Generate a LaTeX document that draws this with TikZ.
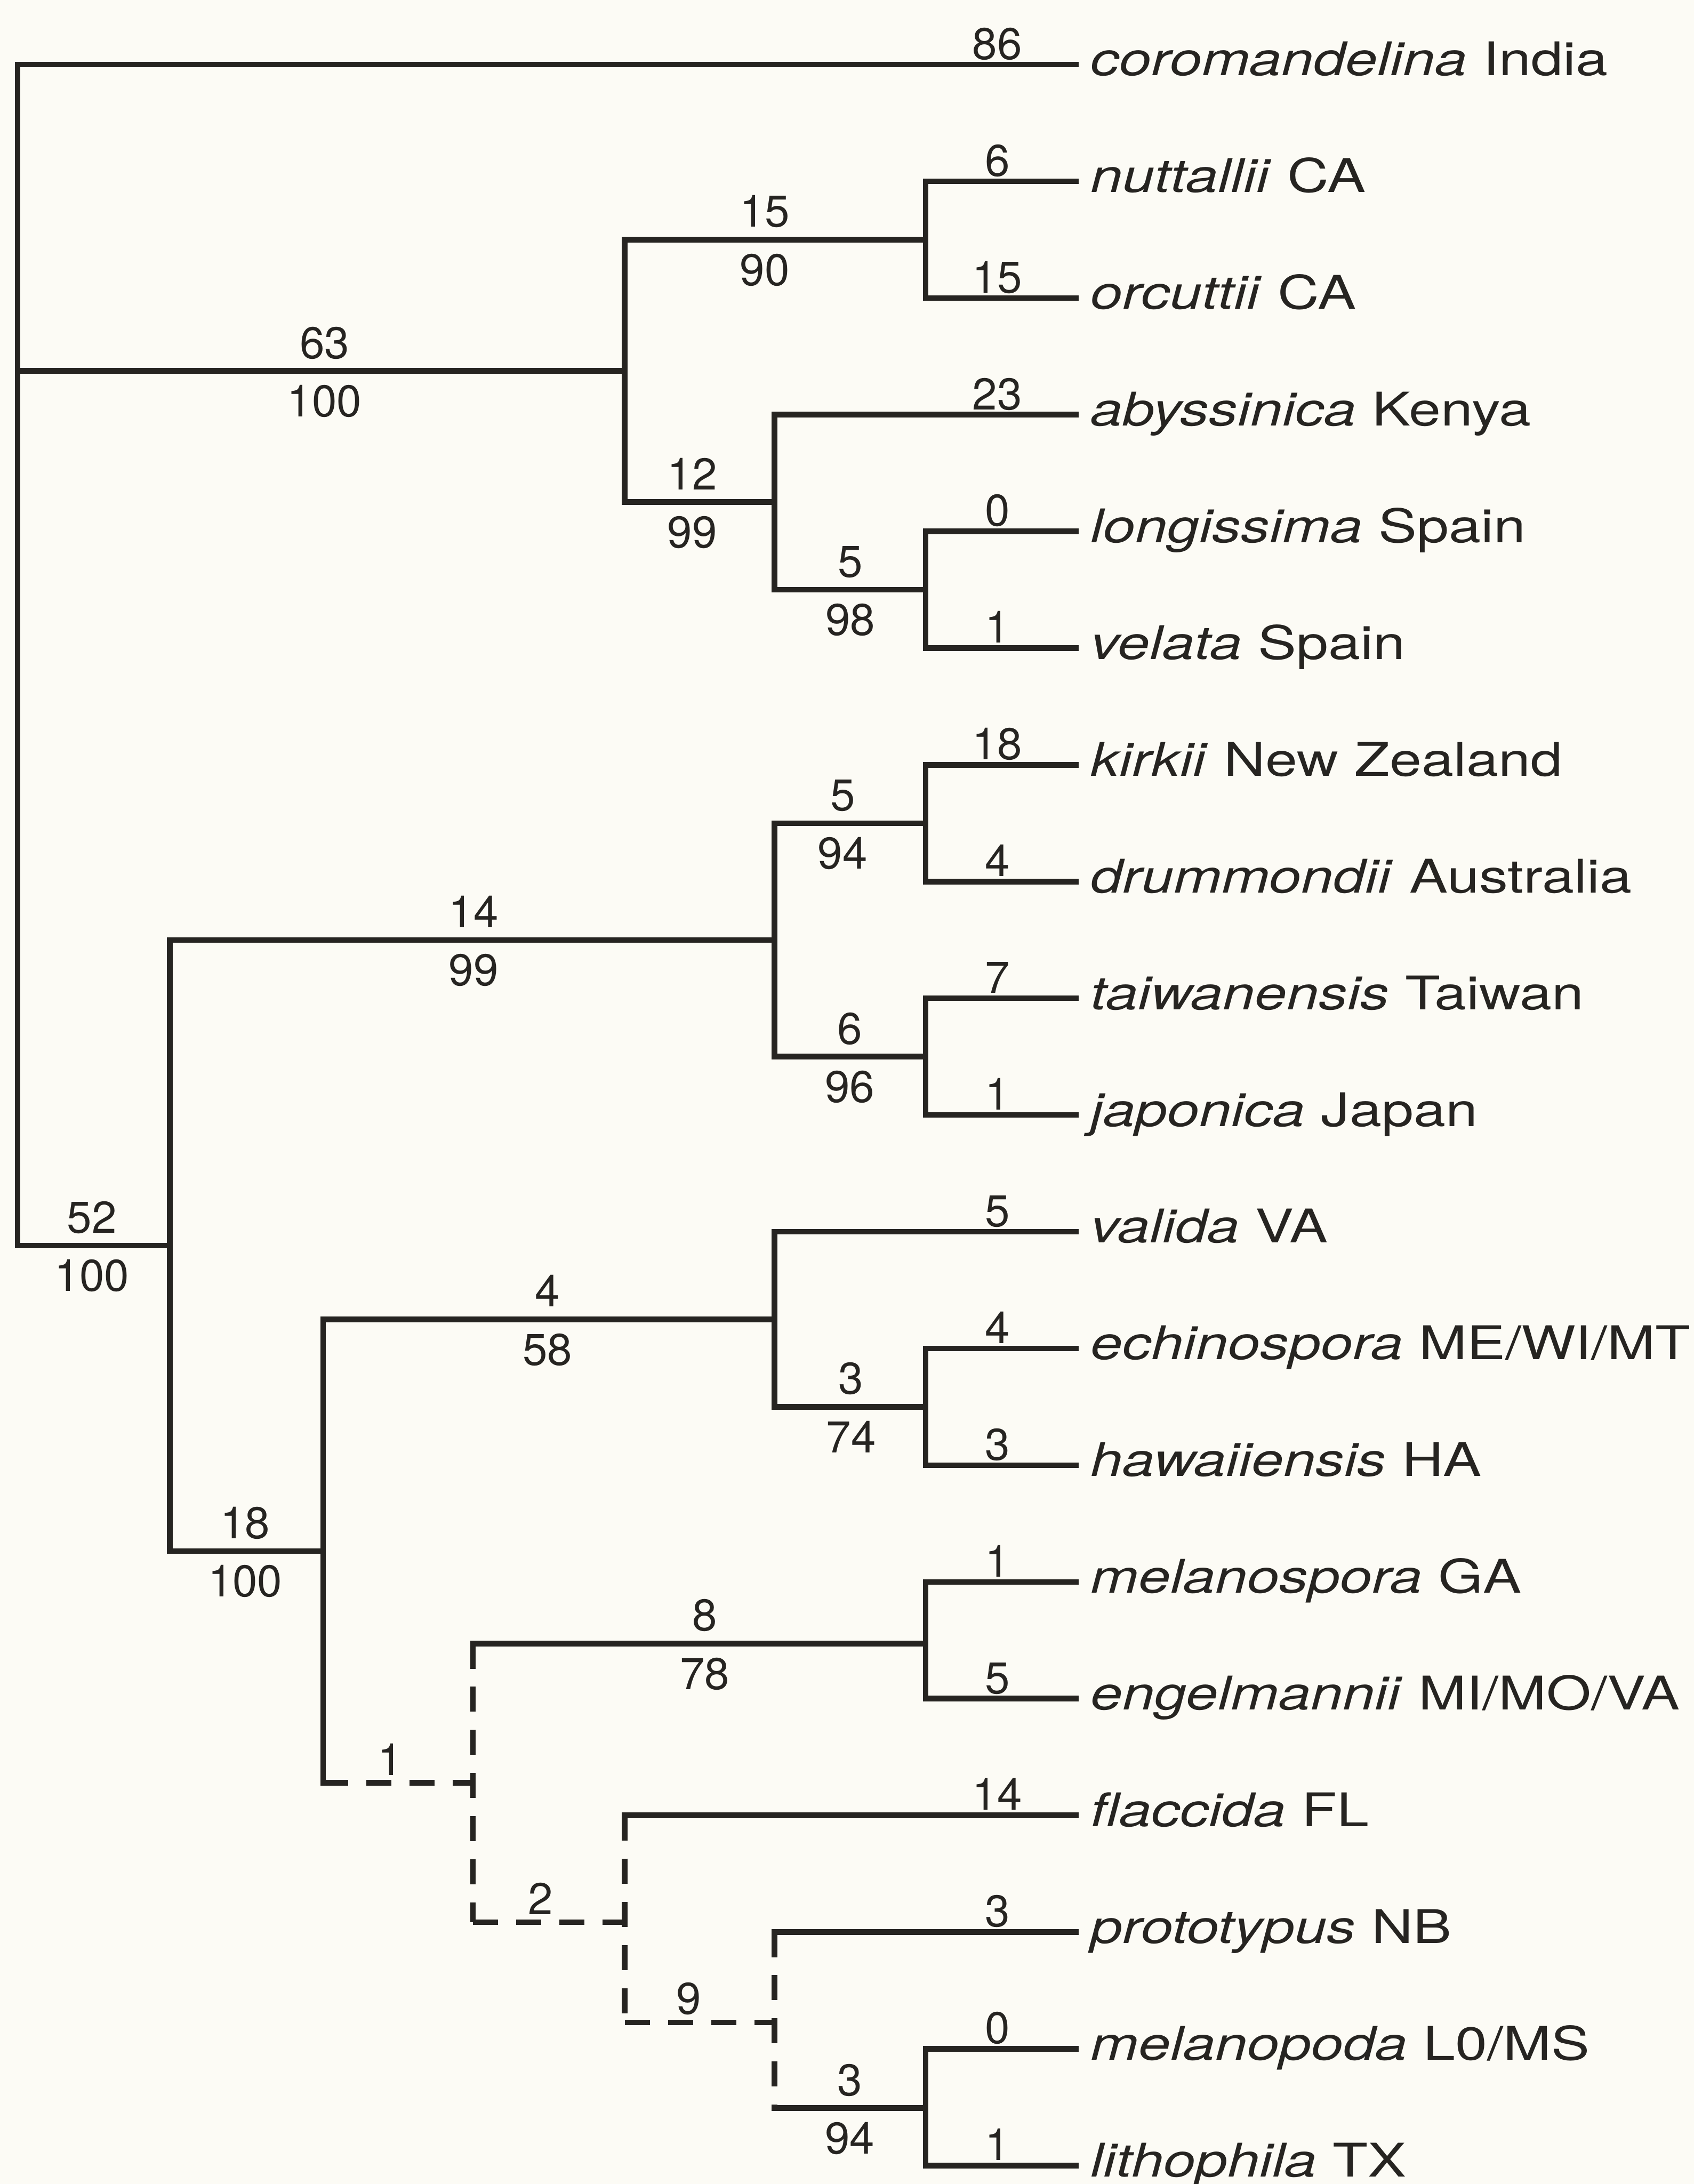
\documentclass[tikz,border=0pt]{standalone}
\usepackage{fontspec}
\setmainfont{TeX Gyre Heros}
\newfontfamily\namefont[FakeStretch=1.24]{TeX Gyre Heros}
\definecolor{ink}{RGB}{38,36,33}
\definecolor{paper}{RGB}{252,251,245}
\newcommand\leaf[4]{%
  \coordinate (t#1) at (772.5,#2);
  \node[taxon] (n#1) at (783,#2+8) {#3};
  \node[up] (b#1) at (716,#2-3.7) {#4};
}
\newcommand\inlab[5]{%
  \node[up] (#1u) at (#2,#3-9) {#4};
  \node[down] (#1d) at (#2,#3+10) {#5};
}
\begin{document}
\begin{tikzpicture}[x=1pt,y=-1pt,
  br/.style={draw=ink,line width=4pt,line cap=rect},
  dbr/.style={draw=ink,line width=4pt,dash pattern=on 18pt off 13pt},
  taxon/.style={anchor=base west,inner sep=0pt,text=ink,font=\namefont\fontsize{33.3}{40}\selectfont},
  num/.style={inner sep=0pt,text=ink,font=\fontsize{32}{38}\selectfont},
  up/.style={num,anchor=base},
  down/.style={num,anchor=north}]
\fill[paper] (0,0) rectangle (1216,1568);
\useasboundingbox (0,0) rectangle (1216,1568);
% leaves
\leaf{0}{46.3}{\textit{coromandelina} India}{86}
\leaf{1}{130.1}{\textit{nuttallii} CA}{6}
\leaf{2}{213.9}{\textit{orcuttii} CA}{15}
\leaf{3}{297.7}{\textit{abyssinica} Kenya}{23}
\leaf{4}{381.5}{\textit{longissima} Spain}{0}
\leaf{5}{465.3}{\textit{velata} Spain}{1}
\leaf{6}{549.1}{\textit{kirkii} New Zealand}{18}
\leaf{7}{632.9}{\textit{drummondii} Australia}{4}
\leaf{8}{716.7}{\textit{taiwanensis} Taiwan}{7}
\leaf{9}{800.5}{\textit{japonica} Japan}{1}
\leaf{10}{884.3}{\textit{valida} VA}{5}
\leaf{11}{968.1}{\textit{echinospora} ME/WI/MT}{4}
\leaf{12}{1051.9}{\textit{hawaiiensis} HA}{3}
\leaf{13}{1135.7}{\textit{melanospora} GA}{1}
\leaf{14}{1219.5}{\textit{engelmannii} MI/MO/VA}{5}
\leaf{15}{1303.3}{\textit{flaccida} FL}{14}
\leaf{16}{1387.1}{\textit{prototypus} NB}{3}
\leaf{17}{1470.9}{\textit{melanopoda} L0/MS}{0}
\leaf{18}{1554.7}{\textit{lithophila} TX}{1}
% internal nodes
\coordinate (root) at (12.6,470);
\coordinate (A) at (448.5,266.3);
\coordinate (B) at (664.5,172.0);
\coordinate (C) at (556,360.5);
\coordinate (D) at (664.5,423.4);
\coordinate (E) at (122,894.2);
\coordinate (F) at (556,674.8);
\coordinate (G) at (664.5,591.0);
\coordinate (H) at (664.5,758.6);
\coordinate (I) at (232,1113.6);
\coordinate (J) at (556,947.2);
\coordinate (K) at (664.5,1010.0);
\coordinate (L) at (339.5,1280);
\coordinate (M) at (664.5,1180);
\coordinate (N) at (448.5,1380);
\coordinate (O) at (556,1452);
\coordinate (P) at (664.5,1513.5);
% vertical bars
\draw[br] (root |- t0) -- (root |- E);
\draw[br] (A |- B) -- (A |- C);
\draw[br] (B |- t1) -- (B |- t2);
\draw[br] (C |- t3) -- (C |- D);
\draw[br] (D |- t4) -- (D |- t5);
\draw[br] (E |- F) -- (E |- I);
\draw[br] (F |- G) -- (F |- H);
\draw[br] (G |- t6) -- (G |- t7);
\draw[br] (H |- t8) -- (H |- t9);
\draw[br] (I |- J) -- (I |- L);
\draw[br] (J |- t10) -- (J |- K);
\draw[br] (K |- t11) -- (K |- t12);
\draw[dbr] (L |- M) -- (L |- N);
\draw[br] (M |- t13) -- (M |- t14);
\draw[dbr] (N |- t15) -- (N |- O);
\draw[dbr] (O |- t16) -- (O |- P);
\draw[br] (P |- t17) -- (P |- t18);
% horizontal branches
\draw[br] (root |- t0) -- (t0);
\draw[br] (root |- A) -- (A);
\draw[br] (root |- E) -- (E);
\draw[br] (A |- B) -- (B);
\draw[br] (A |- C) -- (C);
\draw[br] (B |- t1) -- (t1);
\draw[br] (B |- t2) -- (t2);
\draw[br] (C |- t3) -- (t3);
\draw[br] (C |- D) -- (D);
\draw[br] (D |- t4) -- (t4);
\draw[br] (D |- t5) -- (t5);
\draw[br] (E |- F) -- (F);
\draw[br] (E |- I) -- (I);
\draw[br] (F |- G) -- (G);
\draw[br] (F |- H) -- (H);
\draw[br] (G |- t6) -- (t6);
\draw[br] (G |- t7) -- (t7);
\draw[br] (H |- t8) -- (t8);
\draw[br] (H |- t9) -- (t9);
\draw[br] (I |- J) -- (J);
\draw[dbr] (I |- L) -- (L);
\draw[br] (J |- t10) -- (t10);
\draw[br] (J |- K) -- (K);
\draw[br] (K |- t11) -- (t11);
\draw[br] (K |- t12) -- (t12);
\draw[br] (L |- M) -- (M);
\draw[dbr] (L |- N) -- (N);
\draw[br] (M |- t13) -- (t13);
\draw[br] (M |- t14) -- (t14);
\draw[br] (N |- t15) -- (t15);
\draw[dbr] (N |- O) -- (O);
\draw[br] (O |- t16) -- (t16);
\draw[br] (O |- P) -- (P);
\draw[br] (P |- t17) -- (t17);
\draw[br] (P |- t18) -- (t18);
% branch labels
\inlab{A}{233}{266.3}{63}{100}
\inlab{B}{549}{172.0}{15}{90}
\inlab{C}{497}{360.5}{12}{99}
\inlab{D}{610.5}{423.4}{5}{98}
\inlab{E}{66}{894.2}{52}{100}
\inlab{F}{340}{674.8}{14}{99}
\inlab{G}{605}{591.0}{5}{94}
\inlab{H}{610}{758.6}{6}{96}
\inlab{I}{176}{1113.6}{18}{100}
\inlab{J}{393}{947.2}{4}{58}
\inlab{K}{611}{1010.0}{3}{74}
\inlab{M}{506}{1180}{8}{78}
\inlab{P}{610}{1513.5}{3}{94}
\node[up] (Lu) at (280,1280-5.5) {1};
\node[up] (Nu) at (388,1380-5.5) {2};
\node[up] (Ou) at (494.5,1452-6) {9};
\end{tikzpicture}
\end{document}
